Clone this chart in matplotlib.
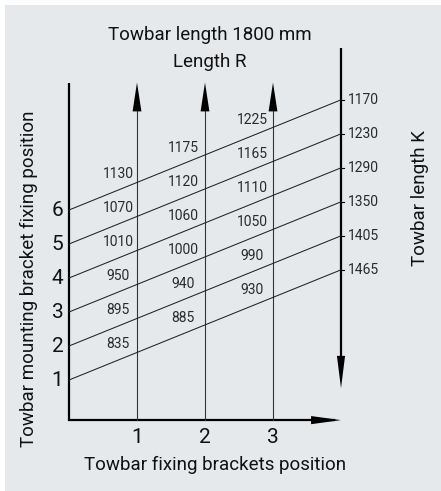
import matplotlib
matplotlib.use("Agg")
import matplotlib.pyplot as plt
from matplotlib import font_manager
from matplotlib.patches import Rectangle

# ---------------- data ----------------
bracket_positions = [1, 2, 3]                 # x ticks
mount_positions = [1, 2, 3, 4, 5, 6]          # y ticks
col1_values = [835, 895, 950, 1010, 1070, 1130]
col2_values = [885, 940, 1000, 1060, 1120, 1175]
col3_values = [930, 990, 1050, 1110, 1165, 1225]
length_k_values = [1465, 1405, 1350, 1290, 1230, 1170]

title_lines = ["Towbar length 1800 mm", "Length R"]
xlabel = "Towbar fixing brackets position"
ylabel = "Towbar mounting bracket fixing position"
rlabel = "Towbar length K"

# ---------------- style / geometry ----------------
names = {f.name for f in font_manager.fontManager.ttflist}
FONT = "Roboto" if "Roboto" in names else "DejaVu Sans"
plt.rcParams["font.family"] = [FONT, "DejaVu Sans"]

W, H = 441, 491
fig = plt.figure(figsize=(W / 100, H / 100), dpi=100)
fig.patch.set_facecolor("white")
bg = fig.add_axes([5 / W, 0, 1 - 5 / W, 1 - 5 / H], zorder=0)
bg.set_facecolor("#e6e9ec")
bg.set_axis_off()
bg.add_patch(Rectangle((0, 0), 1, 1, transform=bg.transAxes, facecolor="#e6e9ec", edgecolor="none"))

ax = fig.add_axes([0, 0, 1, 1], zorder=1)
ax.set_axis_off()
ax.patch.set_alpha(0)
# pixel mapping: x=0 at px 69, 68 px/unit ; y=1 at px 380, 34 px/unit
x0px, xs = 69, 68
y1px, ys = 380, 34
ax.set_xlim((0 - x0px) / xs, (W - x0px) / xs)
ax.set_ylim((y1px - H) / ys + 1, (y1px - 0) / ys + 1)

slope = 0.81
x_right = 4.0
y_axis = -0.18
y_top = 9.75


def head(tip_x, tip_y, dx, dy, length, width):
    bx, by = tip_x - dx * length[0], tip_y - dy * length[1]
    px, py = -dy, dx
    pts_x = [tip_x, bx + px * width[0] / 2, bx - px * width[0] / 2]
    pts_y = [tip_y, by + py * width[1] / 2, by - py * width[1] / 2]
    ax.fill(pts_x, pts_y, color="black", lw=0, zorder=5)


# axes
ax.plot([0, 0], [y_axis, y_top], color="black", lw=1.6, solid_capstyle="butt")
ax.plot([0, x_right - 0.1], [y_axis, y_axis], color="black", lw=1.6)
head(x_right, y_axis, 1, 0, (0.44, 0), (0, 0.24))

# vertical arrows at bracket positions
for bx in bracket_positions:
    ax.plot([bx, bx], [y_axis, y_top - 0.5], color="#333333", lw=0.8)
    head(bx, y_top, 0, 1, (0, 0.85), (0.13, 0))

# right axis (downward arrow)
ax.plot([x_right, x_right], [10.76, 1.5], color="black", lw=1.6, solid_capstyle="butt")
head(x_right, 0.76, 0, -1, (0, 0.95), (0.12, 0))

# diagonal lines
for k in mount_positions:
    ax.plot([0, x_right], [k, k + slope * x_right], color="#222222", lw=0.75)
    ax.plot([x_right, x_right + 0.05], [k + slope * x_right] * 2, color="black", lw=0.8)

# value labels
cols = [col1_values, col2_values, col3_values]
offs_x = [0.72, 1.68, 2.69]
for vals, cx in zip(cols, offs_x):
    for k, v in zip(mount_positions, vals):
        ax.text(cx, k + slope * cx + 0.47, str(v), ha="center", va="center",
                fontsize=10, color="#2a2a2a")
for k, v in zip(mount_positions, length_k_values):
    ax.text(x_right + 0.1, k + slope * x_right, str(v), ha="left", va="center",
            fontsize=10, color="#2a2a2a")

# tick labels
for k in mount_positions:
    ax.text(-0.17, k, str(k), ha="center", va="center", fontsize=15, color="#111111")
for b in bracket_positions:
    ax.text(b, y_axis - 0.5, str(b), ha="center", va="center", fontsize=15, color="#111111")


def ptext(px, py, s, **kw):
    fig.text(px / W, 1 - py / H, s, ha="center", va="center", fontsize=13.5,
             color="#111111", zorder=3, **kw)


ptext(210, 35, title_lines[0])
ptext(210, 62, title_lines[1])
ptext(215, 465, xlabel)
ptext(29, 279, ylabel, rotation=90)
ptext(420, 198, rlabel, rotation=90)

fig.savefig("out.png", dpi=100)
